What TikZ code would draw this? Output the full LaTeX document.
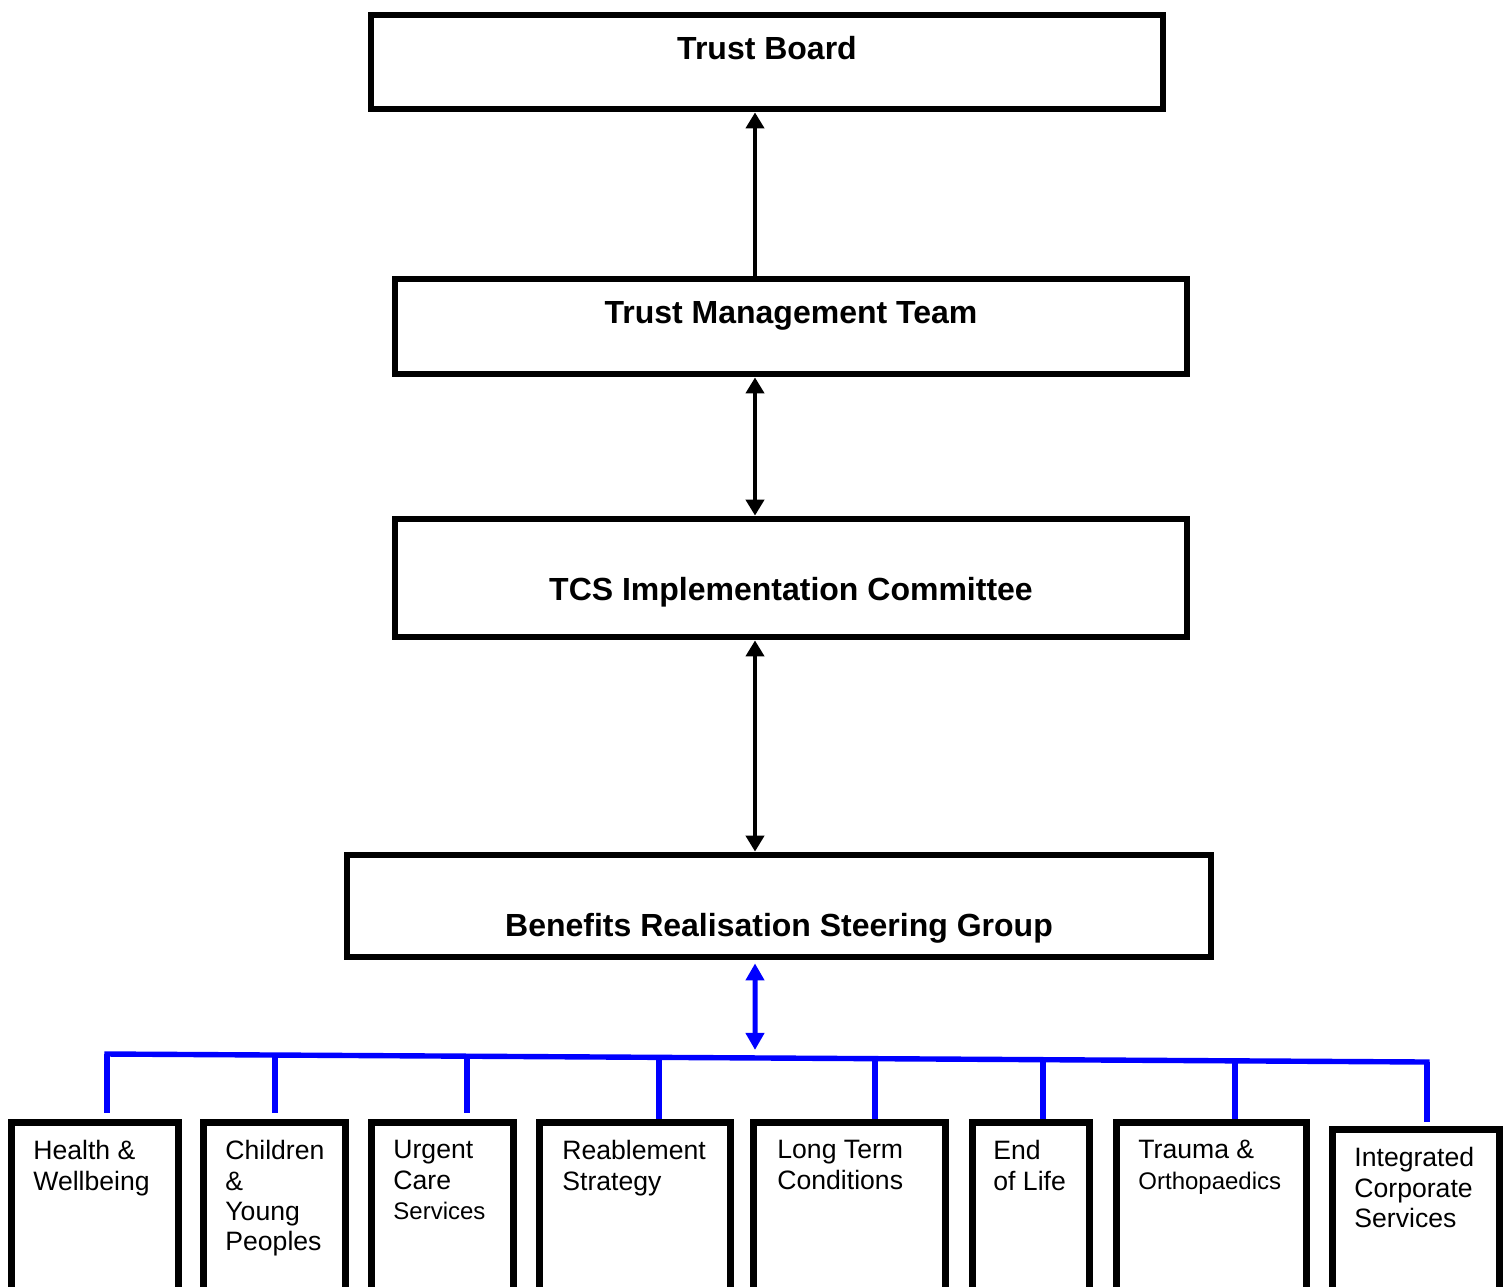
\documentclass[tikz,border=0pt]{standalone}
\usepackage{fontspec}
\setmainfont{Liberation Sans}
\usepackage{tikz}
\usetikzlibrary{arrows.meta,calc}
\definecolor{busblue}{RGB}{0,0,255}
\tikzset{
  chart/box/.style={draw, line width=3.4pt, inner sep=0pt},
  chart/title/.style={font=\fontsize{16}{19}\selectfont\bfseries, inner sep=0pt, text height=11.5pt, text depth=0pt},
  chart/unit/.style={font=\fontsize{13.3}{15.2}\selectfont, inner sep=0pt, anchor=north west, align=left},
  chart/unitbox/.style={chart/box, anchor=north west, minimum height=100pt},
  chart/up/.style={line width=2.4pt, -{Triangle[length=8pt,width=9pt]}},
  chart/link/.style={line width=2.4pt, {Triangle[length=8pt,width=9pt]}-{Triangle[length=8pt,width=9pt]}},
  chart/bluelink/.style={busblue, line width=2.5pt, {Triangle[length=8.5pt,width=9pt]}-{Triangle[length=8.5pt,width=9pt]}},
  chart/bus/.style={busblue, line width=2.7pt, line cap=rect},
  chart/drop/.style={busblue, line width=2.7pt}
}
\newcommand{\smallunit}[1]{{\fontsize{12}{15.2}\selectfont #1}}

\begin{document}
\begin{tikzpicture}[x=0.5pt,y=-0.5pt]
  \useasboundingbox (0,0) rectangle (1507,1286);
  \clip (0,0) rectangle (1507,1286);
  % top of the structure
  \node[chart/box, minimum width=396pt, minimum height=47pt] (tb) at (767,62) {};
  \node[chart/title] (tbname) at ($(tb.center)+(0,-14)$) {Trust Board};
  \node[chart/box, minimum width=396pt, minimum height=47.5pt] (tmt) at (791,326.5) {};
  \node[chart/title] (tmtname) at ($(tmt.center)+(0,-14.5)$) {Trust Management Team};
  \node[chart/box, minimum width=396pt, minimum height=59pt] (tcs) at (791,578) {};
  \node[chart/title] (tcsname) at ($(tcs.center)+(0,11)$) {TCS Implementation Committee};
  \node[chart/box, minimum width=432pt, minimum height=51pt] (brsg) at (779,906) {};
  \node[chart/title] (brsgname) at ($(brsg.center)+(0,19)$) {Benefits Realisation Steering Group};
  % workstreams
  \node[chart/unitbox, minimum width=83.5pt] (hw) at (8,1119) {};
  \node[chart/unitbox, minimum width=71pt] (cyp) at (200,1119) {};
  \node[chart/unitbox, minimum width=71pt] (ucs) at (368,1119) {};
  \node[chart/unitbox, minimum width=95.5pt] (rs) at (536,1119) {};
  \node[chart/unitbox, minimum width=96pt] (ltc) at (750,1119) {};
  \node[chart/unitbox, minimum width=58.5pt] (eol) at (969,1119) {};
  \node[chart/unitbox, minimum width=95pt] (to) at (1113,1119) {};
  \node[chart/unitbox, minimum width=83.5pt] (ics) at (1329,1126) {};
  \node[chart/unit] (hwname) at ($(hw.north west)+(25,21)$) {Health \&\\Wellbeing};
  \node[chart/unit] (cypname) at ($(cyp.north west)+(25,21)$) {Children\\\&\\Young\\Peoples};
  \node[chart/unit] (ucsname) at ($(ucs.north west)+(25,21)$) {Urgent\\Care\\\smallunit{Services}};
  \node[chart/unit] (rsname) at ($(rs.north west)+(26,21)$) {Reablement\\Strategy};
  \node[chart/unit] (ltcname) at ($(ltc.north west)+(27,21)$) {Long Term\\Conditions};
  \node[chart/unit] (eolname) at ($(eol.north west)+(24,21)$) {End\\of Life};
  \node[chart/unit] (toname) at ($(to.north west)+(25,21)$) {Trauma \&\\\smallunit{Orthopaedics}};
  \node[chart/unit] (icsname) at ($(ics.north west)+(25,21)$) {Integrated\\Corporate\\Services};
  % connectors
  \coordinate (spine) at (755,0);
  \coordinate (busl) at (107,1054);
  \coordinate (busr) at (1427,1062);
  \path (busl) -- (busr)
    coordinate[pos=0.1273] (jcyp) coordinate[pos=0.2727] (jucs)
    coordinate[pos=0.4182] (jrs) coordinate[pos=0.4909] (jmid)
    coordinate[pos=0.5818] (jltc) coordinate[pos=0.7091] (jeol)
    coordinate[pos=0.8545] (jto);
  \draw[chart/up] (tmt.north -| spine) -- (tb.south -| spine);
  \draw[chart/link] (tmt.south -| spine) -- (tcs.north -| spine);
  \draw[chart/link] (tcs.south -| spine) -- (brsg.north -| spine);
  \draw[chart/bluelink, shorten <=1.5pt, shorten >=4pt] (brsg.south -| spine) -- (jmid);
  \draw[chart/bus] (busl) -- (busr);
  \draw[chart/drop, shorten >=3pt] (busl) -- (busl |- hw.north);
  \draw[chart/drop, shorten >=3pt] (jcyp) -- (jcyp |- cyp.north);
  \draw[chart/drop, shorten >=3pt] (jucs) -- (jucs |- ucs.north);
  \draw[chart/drop] (jrs) -- (jrs |- rs.north);
  \draw[chart/drop] (jltc) -- (jltc |- ltc.north);
  \draw[chart/drop] (jeol) -- (jeol |- eol.north);
  \draw[chart/drop] (jto) -- (jto |- to.north);
  \draw[chart/drop, shorten >=2pt] (busr) -- (busr |- ics.north);
\end{tikzpicture}
\end{document}
